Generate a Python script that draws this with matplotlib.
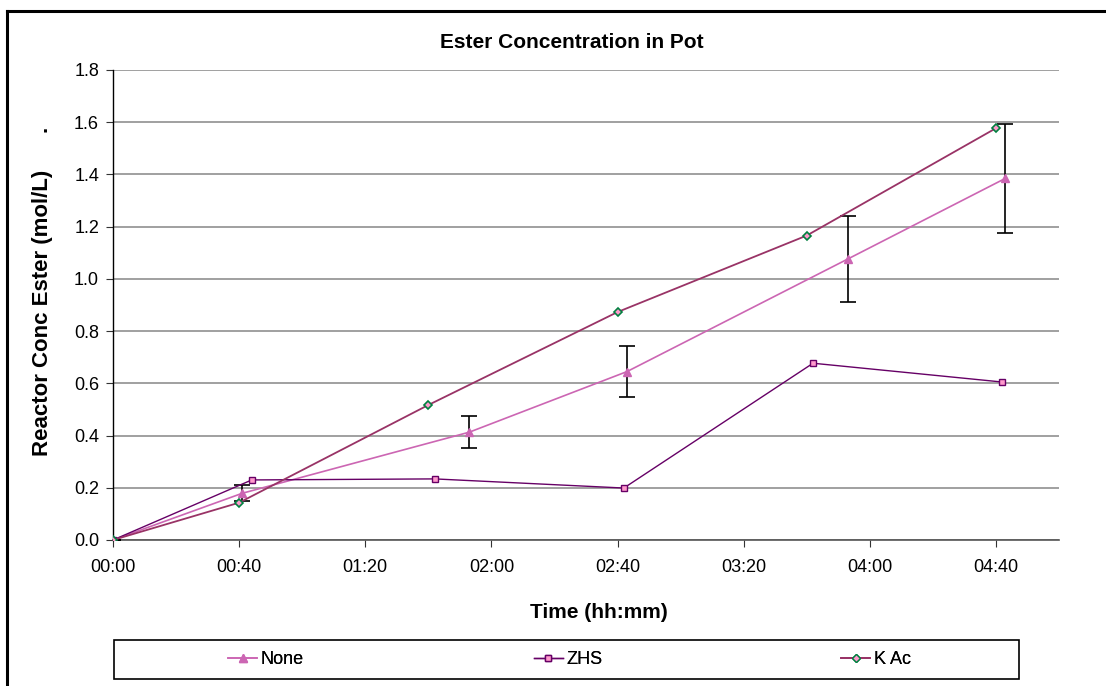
import matplotlib
matplotlib.use("Agg")
import matplotlib.pyplot as plt
from matplotlib.lines import Line2D
from matplotlib.patches import Rectangle
from matplotlib.ticker import FuncFormatter, MultipleLocator

plt.rcParams['font.family'] = ['Liberation Sans', 'DejaVu Sans']

# Elapsed time in minutes and ester concentration (mol/L)
none_time = [0, 41, 113, 163, 233, 283]
none_conc = [0.0, 0.179, 0.413, 0.645, 1.076, 1.385]
none_err = [0.0, 0.03, 0.062, 0.097, 0.165, 0.209]

zhs_time = [0, 44, 102, 162, 222, 282]
zhs_conc = [0.0, 0.23, 0.234, 0.199, 0.677, 0.605]

kac_time = [0, 40, 100, 160, 220, 280]
kac_conc = [0.0, 0.143, 0.517, 0.873, 1.166, 1.577]

series_names = ["None", "ZHS", "K Ac"]

W, H = 1106, 686
fig = plt.figure(figsize=(W / 100, H / 100), dpi=100)
ax = fig.add_axes([113 / W, 1 - 540 / H, 946 / W, 470 / H])

c_none = "#CC66B3"
c_zhs = "#660066"
c_kac = "#993366"

ax.errorbar(none_time, none_conc, yerr=none_err, fmt="none", ecolor="black",
            elinewidth=1.2, capsize=6, capthick=1.2, zorder=3)
ax.plot(none_time, none_conc, color=c_none, lw=1.2, marker="^", ms=6,
        mfc=c_none, mec=c_none, zorder=4)
ax.plot(zhs_time, zhs_conc, color=c_zhs, lw=1.0, marker="s", ms=4.5,
        mfc="#FF99CC", mec=c_zhs, mew=1.0, zorder=4)
ax.plot(kac_time, kac_conc, color=c_kac, lw=1.3, marker="D", ms=4.5,
        mfc="#FF99CC", mec="#008040", mew=1.2, zorder=4)

ax.set_xlim(0, 300)
ax.set_ylim(0, 1.8)
ax.xaxis.set_major_locator(MultipleLocator(40))
ax.yaxis.set_major_locator(MultipleLocator(0.2))
ax.xaxis.set_major_formatter(FuncFormatter(lambda v, p: f"{int(v) // 60:02d}:{int(v) % 60:02d}"))
ax.yaxis.set_major_formatter(FuncFormatter(lambda v, p: f"{v:.1f}"))

ax.grid(axis="y", color="#999999", lw=1.3)
ax.set_axisbelow(True)
for s in ["top", "right"]:
    ax.spines[s].set_visible(False)
ax.spines["left"].set_color("black")
ax.spines["left"].set_linewidth(1.0)
ax.spines["bottom"].set_color("#555555")
ax.spines["bottom"].set_linewidth(1.2)
ax.tick_params(axis="both", direction="out", length=5, labelsize=13, colors="#333333",
               labelcolor="black")
ax.tick_params(axis="x", pad=9)
ax.tick_params(axis="y", pad=5)

# Titles placed relative to the whole chart area
fig.text(572 / W, 1 - 43 / H, "Ester Concentration in Pot", fontsize=15,
         fontweight="bold", ha="center", va="center")
fig.text(599 / W, 1 - 612 / H, "Time (hh:mm)", fontsize=15,
         fontweight="bold", ha="center", va="center")
fig.text(43 / W, 1 - 456 / H, "Reactor Conc Ester (mol/L)      .", fontsize=16,
         fontweight="bold", ha="center", va="bottom", rotation=90)

# Outer chart frame (top and left edges)
fig.add_artist(Line2D([7 / W, 7 / W], [0, 1 - 11 / H], transform=fig.transFigure,
                      color="black", lw=2.2))
fig.add_artist(Line2D([7 / W, 1], [1 - 11 / H, 1 - 11 / H], transform=fig.transFigure,
                      color="black", lw=2.2))

# Legend box with three evenly spaced entries
fig.add_artist(Rectangle((114 / W, 1 - 679 / H), 905 / W, 39 / H, transform=fig.transFigure,
                         fill=False, edgecolor="black", lw=1.2))
handles = [
    Line2D([], [], color=c_none, lw=1.2, marker="^", ms=6, mfc=c_none, mec=c_none),
    Line2D([], [], color=c_zhs, lw=1.0, marker="s", ms=4.5, mfc="#FF99CC", mec=c_zhs),
    Line2D([], [], color=c_kac, lw=1.3, marker="D", ms=4.5, mfc="#FF99CC", mec="#008040"),
]
centers = [266, 568, 876]
for h, name, cx in zip(handles, series_names, centers):
    leg = fig.legend([h], [name], loc="center", bbox_to_anchor=(cx / W, 1 - 660 / H),
                     frameon=False, fontsize=13, handlelength=1.6, handletextpad=0.2,
                     borderpad=0)
    fig.add_artist(leg)

fig.savefig("out.png", dpi=100, facecolor="white")
